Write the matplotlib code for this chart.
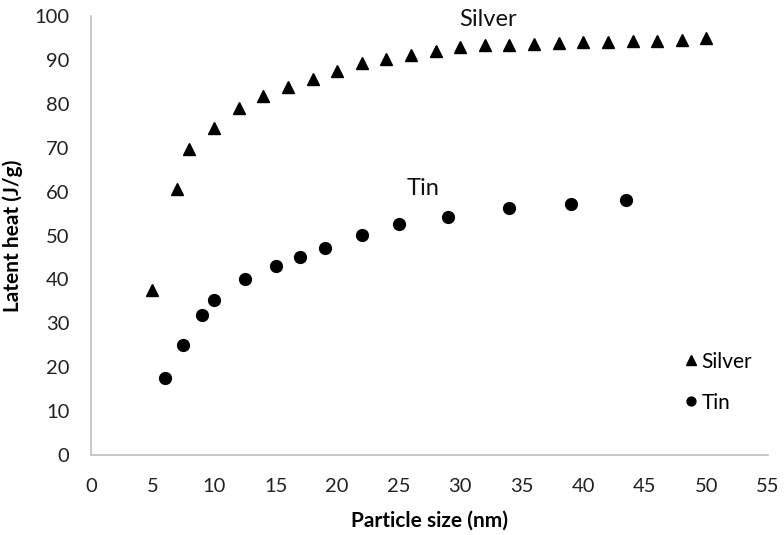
import matplotlib.pyplot as plt

# data
silver_size = [5, 7, 8, 10, 12, 14, 16, 18, 20, 22, 24, 26, 28, 30, 32, 34, 36,
               38, 40, 42, 44, 46, 48, 50]
silver_heat = [37.5, 60.5, 69.8, 74.4, 79.0, 81.8, 83.8, 85.6, 87.5, 89.3, 90.1, 91.1,
               92.1, 92.9, 93.3, 93.5, 93.7, 93.9, 94.0, 94.1, 94.3, 94.4, 94.6, 94.9]
tin_size = [6, 7.5, 9, 10, 12.5, 15, 17, 19, 22, 25, 29, 34, 39, 43.5]
tin_heat = [17.5, 25.1, 32.0, 35.2, 40.2, 43.1, 45.1, 47.1, 50.2, 52.6, 54.2, 56.2,
            57.2, 58.1]
x_ticks = list(range(0, 56, 5))
y_ticks = list(range(0, 101, 10))

plt.rcParams['font.family'] = ['Lato', 'DejaVu Sans']

fig = plt.figure(figsize=(7.84, 5.35), dpi=100)
ax = fig.add_axes([0.116, 0.1495, 0.8635, 0.8206])

ax.plot(silver_size, silver_heat, linestyle='none', marker='^', markersize=9,
        color='black', label='Silver')
ax.plot(tin_size, tin_heat, linestyle='none', marker='o', markersize=8.5,
        color='black', label='Tin')

# series names written inside the plot
ax.text(32.3, 99.3, 'Silver', fontsize=17, ha='center', va='center', color='#111111')
ax.text(27.0, 60.6, 'Tin', fontsize=17, ha='center', va='center', color='#111111')

ax.set_xlim(0, 55)
ax.set_ylim(0, 100)
ax.set_xticks(x_ticks)
ax.set_yticks(y_ticks)
ax.tick_params(length=0, labelsize=14.5, colors='#222222')
ax.tick_params(axis='y', pad=15.5)
ax.tick_params(axis='x', pad=16.5)

for side in ['top', 'right']:
    ax.spines[side].set_visible(False)
for side in ['left', 'bottom']:
    ax.spines[side].set_color('#bfbfbf')
    ax.spines[side].set_linewidth(1.2)

ax.set_xlabel('Particle size (nm)', fontsize=15, fontweight='bold')
ax.set_ylabel('Latent heat (J/g)', fontsize=15, fontweight='bold')
ax.xaxis.set_label_coords(0.5, -0.127)
ax.yaxis.set_label_coords(-0.100, 0.5)

ax.legend(loc='center left', bbox_to_anchor=(0.848, 0.166), frameon=False,
          fontsize=15, markerscale=0.75, handlelength=0.7, handletextpad=0.15,
          labelspacing=1.0)

fig.savefig('out.png', dpi=100)
